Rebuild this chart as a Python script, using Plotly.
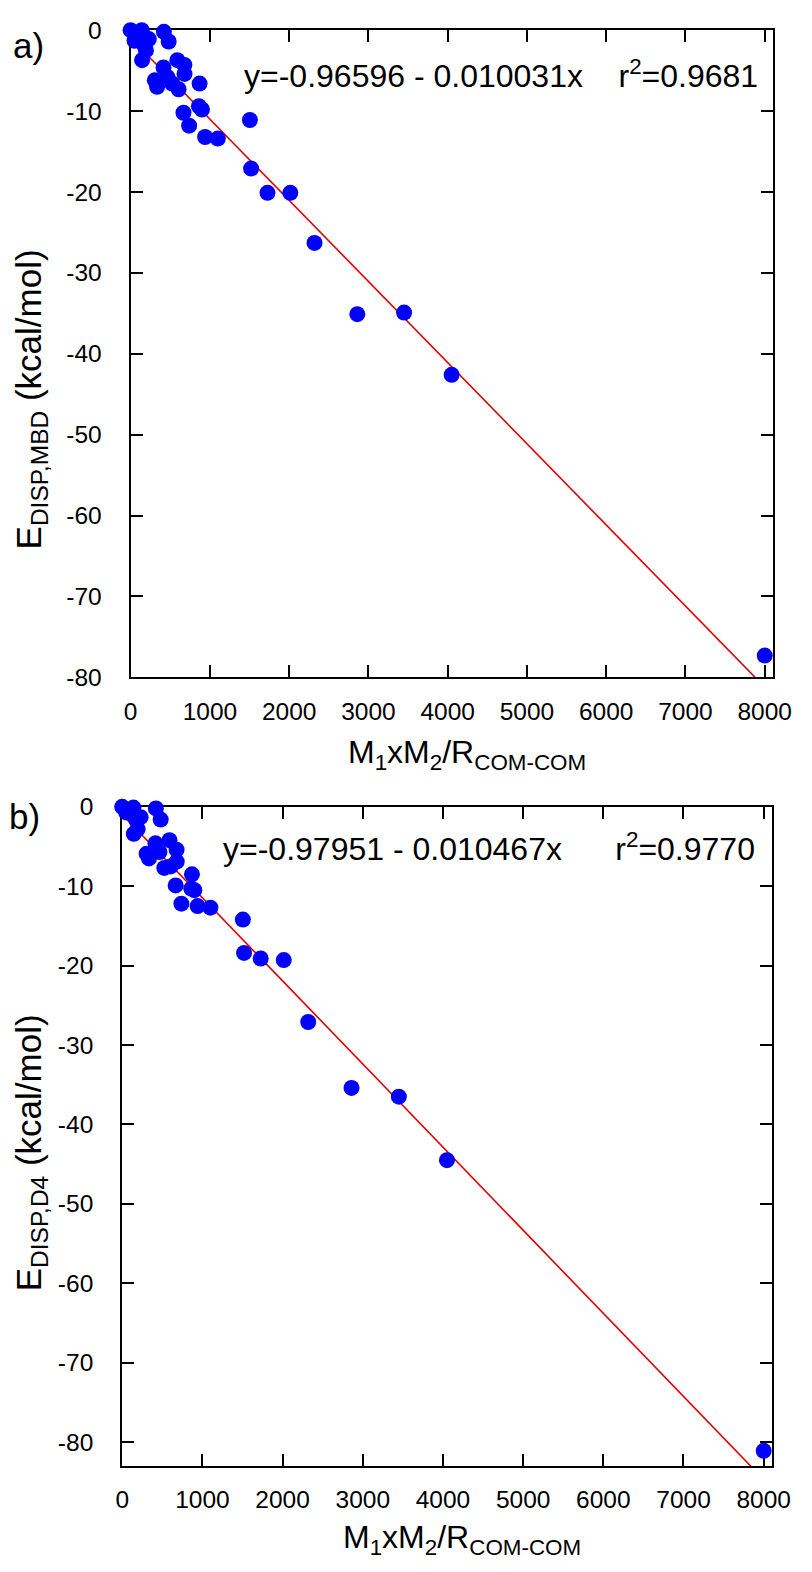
import plotly.graph_objects as go

# ---- data ----
x_vals = [0, 50, 140, 145, 175, 230, 193, 305, 334, 420, 415, 465, 480, 525, 590, 605,
          667, 678, 680, 738, 870, 862, 900, 940, 1100, 1505, 1520, 1727, 2015, 2320,
          2860, 3450, 4050, 8000]
e_mbd = [0, -1.3, 0, -3.7, -1.9, -1.1, -2.5, -6.2, -7.0, -0.2, -4.6, -5.8, -1.4, -6.6,
         -3.7, -7.3, -10.2, -4.3, -5.4, -11.8, -6.6, -9.4, -9.8, -13.2, -13.4, -11.1,
         -17.1, -20.1, -20.1, -26.3, -35.1, -34.9, -42.6, -77.3]
e_d4 = [0, -0.7, -0.1, -3.4, -1.7, -1.3, -2.8, -5.9, -6.5, -0.2, -4.6, -5.7, -1.6, -7.7,
        -4.2, -7.5, -9.9, -5.4, -6.9, -12.2, -8.5, -10.3, -10.5, -12.5, -12.7, -14.2,
        -18.4, -19.1, -19.3, -27.1, -35.4, -36.5, -44.5, -81.1]

fit_a = {"intercept": -0.96596, "slope": -0.010031, "r2": "0.9681"}
fit_b = {"intercept": -0.97951, "slope": -0.010467, "r2": "0.9770"}
line_x = [0, 8100]

x_ticks = [0, 1000, 2000, 3000, 4000, 5000, 6000, 7000, 8000]
y_ticks = [0, -10, -20, -30, -40, -50, -60, -70, -80]

W, H = 812, 1572
FONT = "Liberation Sans, Arial, Helvetica, sans-serif"

fig = go.Figure()

def add_panel(ydata, fit, xa, ya):
    fig.add_trace(go.Scatter(
        x=line_x, y=[fit["intercept"] + fit["slope"] * v for v in line_x],
        mode="lines", line=dict(color="#e00000", width=1.6),
        xaxis=xa, yaxis=ya, showlegend=False, hoverinfo="skip"))
    fig.add_trace(go.Scatter(
        x=x_vals, y=ydata, mode="markers",
        marker=dict(color="#0000ff", size=16, line=dict(width=0)),
        cliponaxis=False, xaxis=xa, yaxis=ya, showlegend=False))

add_panel(e_mbd, fit_a, "x", "y")
add_panel(e_d4, fit_b, "x2", "y2")

def px_x(p):
    return p / W

def px_y(p):
    return 1 - p / H

axis_common = dict(
    showline=True, linecolor="black", linewidth=2, mirror="ticks",
    ticks="inside", ticklen=12, tickwidth=1.6, tickcolor="black",
    showgrid=False, zeroline=False, layer="below traces",
    tickfont=dict(family=FONT, size=24.5, color="black"),
)
xt = dict(tickmode="array", tickvals=x_ticks, ticktext=[str(v) for v in x_ticks])
yt = dict(tickmode="array", tickvals=y_ticks, ticktext=[str(v) for v in y_ticks])

fig.update_layout(
    width=W, height=H, margin=dict(l=0, r=0, t=0, b=0),
    paper_bgcolor="white", plot_bgcolor="white",
    xaxis=dict(domain=[px_x(127.7), px_x(791)], range=[0, 8100], anchor="y",
               ticklabelstandoff=11, **xt, **axis_common),
    yaxis=dict(domain=[px_y(676), px_y(17.5)], range=[-80, 0], anchor="x",
               ticklabelstandoff=22, **yt, **axis_common),
    xaxis2=dict(domain=[px_x(119), px_x(790)], range=[0, 8100], anchor="y2",
                ticklabelstandoff=11, **xt, **axis_common),
    yaxis2=dict(domain=[px_y(1478.3), px_y(807.7)], range=[-83, 0], anchor="x2",
                ticklabelstandoff=22, **yt, **axis_common),
)

ytitle_font = dict(family=FONT, size=35, color="black")
xtitle_font = dict(family=FONT, size=32, color="black")
lab_font = dict(family=FONT, size=35, color="black")
eq_font = dict(family=FONT, size=32, color="black")

def eq_text(fit, nsp):
    return "y=%.5f - %.6fx%sr<sup>2</sup>=%s" % (fit["intercept"], -fit["slope"],
                                                  "\u00a0" * nsp, fit["r2"])

annos = [
    dict(text="a)", x=px_x(4), y=px_y(33), xanchor="left", yanchor="middle", font=lab_font),
    dict(text="b)", x=px_x(0), y=px_y(818), xanchor="left", yanchor="middle", font=lab_font),
    dict(text="E<sub>DISP,MBD</sub> (kcal/mol)", textangle=-90, x=px_x(25), y=px_y(393),
         xanchor="center", yanchor="middle", font=ytitle_font),
    dict(text="E<sub>DISP,D4</sub> (kcal/mol)", textangle=-90, x=px_x(25), y=px_y(1160),
         xanchor="center", yanchor="middle", font=ytitle_font),
    dict(text="M<sub>1</sub>xM<sub>2</sub>/R<sub>COM-COM</sub>", x=px_x(475), y=px_y(754),
         xanchor="center", yanchor="middle", font=xtitle_font),
    dict(text="M<sub>1</sub>xM<sub>2</sub>/R<sub>COM-COM</sub>", x=px_x(470), y=px_y(1553),
         xanchor="center", yanchor="middle", font=xtitle_font),
    dict(text=eq_text(fit_a, 4), x=px_x(243), y=px_y(62), xanchor="left", yanchor="middle", font=eq_font),
    dict(text=eq_text(fit_b, 6), x=px_x(221), y=px_y(849), xanchor="left", yanchor="middle", font=eq_font),
]
for a in annos:
    a.update(xref="paper", yref="paper", showarrow=False)
fig.update_layout(annotations=annos)

fig.write_html("out.html", config={"displayModeBar": False},
               post_script="document.body.style.margin='0';")
